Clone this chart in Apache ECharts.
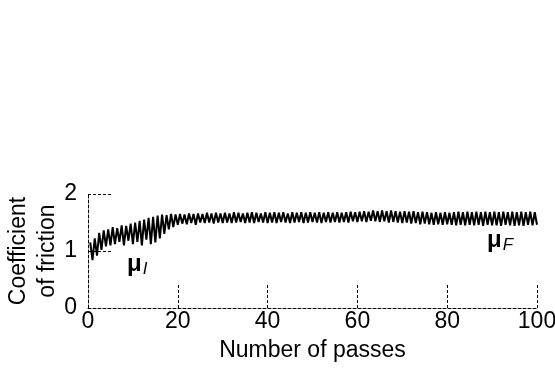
<!DOCTYPE html>
<html>
<head>
<meta charset="utf-8">
<script src="https://cdn.jsdelivr.net/npm/echarts@6/dist/echarts.min.js"></script>
<style>
  html, body { margin: 0; padding: 0; background: #fff; }
  #chart { width: 555px; height: 374px; }
</style>
</head>
<body>
<div id="chart"></div>
<script>
// friction trace, alternating peak / trough, one sample every half pass
const passStart = 0.5
const passStep = 0.5
const mu = [
  1.15, 0.84, 1.22, 0.92, 1.32, 1.02, 1.36, 1.08, 1.38, 1.10,
  1.42, 1.12, 1.40, 1.16, 1.45, 1.10, 1.44, 1.18, 1.48, 1.12,
  1.50, 1.16, 1.53, 1.10, 1.55, 1.20, 1.58, 1.12, 1.60, 1.15,
  1.62, 1.22, 1.64, 1.30, 1.63, 1.38, 1.65, 1.42, 1.64, 1.46,
  1.65, 1.48, 1.64, 1.47, 1.66, 1.49, 1.65, 1.46, 1.66, 1.50,
  1.65, 1.49, 1.67, 1.50, 1.66, 1.48, 1.67, 1.50, 1.66, 1.49,
  1.67, 1.50, 1.66, 1.49, 1.68, 1.50, 1.67, 1.51, 1.66, 1.49,
  1.67, 1.50, 1.68, 1.49, 1.67, 1.51, 1.66, 1.50, 1.68, 1.49,
  1.67, 1.50, 1.68, 1.49, 1.67, 1.51, 1.68, 1.50, 1.66, 1.49,
  1.68, 1.50, 1.67, 1.51, 1.68, 1.49, 1.67, 1.50, 1.68, 1.51,
  1.67, 1.50, 1.68, 1.49, 1.67, 1.51, 1.68, 1.50, 1.67, 1.51,
  1.68, 1.50, 1.67, 1.51, 1.68, 1.50, 1.69, 1.52, 1.68, 1.51,
  1.69, 1.52, 1.70, 1.51, 1.69, 1.53, 1.71, 1.52, 1.70, 1.51,
  1.71, 1.52, 1.70, 1.50, 1.71, 1.51, 1.70, 1.50, 1.69, 1.49,
  1.70, 1.50, 1.69, 1.48, 1.70, 1.49, 1.68, 1.47, 1.69, 1.48,
  1.68, 1.47, 1.67, 1.46, 1.68, 1.47, 1.67, 1.46, 1.68, 1.47,
  1.67, 1.46, 1.68, 1.45, 1.69, 1.46, 1.68, 1.45, 1.69, 1.46,
  1.68, 1.45, 1.69, 1.46, 1.68, 1.44, 1.69, 1.46, 1.68, 1.45,
  1.69, 1.45, 1.68, 1.44, 1.69, 1.46, 1.68, 1.45, 1.69, 1.44,
  1.68, 1.45, 1.69, 1.44, 1.68, 1.46, 1.69, 1.45, 1.68, 1.46
]

const xTicks = [0, 20, 40, 60, 80, 100]
const yTicks = [0, 1, 2]
const xTitle = 'Number of passes'
const yTitle = 'Coefficient\nof friction'

const font = '"Liberation Sans", Arial, sans-serif'

const chart = echarts.init(document.getElementById('chart'))

const points = mu.map((v, i) => [passStart + i * passStep, v])

const dashed = { color: '#000', width: 1, type: [3, 2] }

chart.setOption({
  animation: false,
  grid: { left: 88, right: 18, top: 194, bottom: 66, containLabel: false, outerBoundsMode: 'none' },
  xAxis: {
    type: 'value',
    min: xTicks[0],
    max: xTicks[xTicks.length - 1],
    interval: 20,
    name: xTitle,
    nameLocation: 'middle',
    nameGap: 31,
    nameMoveOverlap: false,
    nameTextStyle: { fontFamily: font, fontSize: 23, color: '#000' },
    axisLine: { lineStyle: dashed },
    axisTick: { inside: true, length: 24, lineStyle: dashed },
    axisLabel: { fontFamily: font, fontSize: 23, color: '#000', margin: 2 },
    splitLine: { show: false }
  },
  yAxis: {
    type: 'value',
    min: yTicks[0],
    max: yTicks[yTicks.length - 1],
    interval: 1,
    name: yTitle,
    nameLocation: 'middle',
    nameGap: 26,
    nameRotate: 90,
    nameMoveOverlap: false,
    nameTextStyle: { fontFamily: font, fontSize: 23, color: '#000', lineHeight: 29 },
    axisLine: { show: true, lineStyle: dashed },
    axisTick: { show: true, inside: true, length: 23, lineStyle: dashed },
    axisLabel: { fontFamily: font, fontSize: 23, color: '#000', margin: 11 },
    splitLine: { show: false }
  },
  graphic: [
    {
      type: 'text', left: 127, top: 252,
      style: {
        text: '{m|μ}{s|I}',
        rich: {
          m: { fontFamily: font, fontSize: 24, fontWeight: 'bold', fill: '#000' },
          s: { fontFamily: font, fontSize: 17, fontStyle: 'italic', fill: '#000', padding: [10, 0, 0, 1] }
        }
      }
    },
    {
      type: 'text', left: 487, top: 228,
      style: {
        text: '{m|μ}{s|F}',
        rich: {
          m: { fontFamily: font, fontSize: 24, fontWeight: 'bold', fill: '#000' },
          s: { fontFamily: font, fontSize: 17, fontStyle: 'italic', fill: '#000', padding: [10, 0, 0, 1] }
        }
      }
    }
  ],
  series: [
    {
      type: 'line',
      data: points,
      showSymbol: false,
      lineStyle: { color: '#000', width: 2 }
    }
  ]
})
</script>
</body>
</html>
